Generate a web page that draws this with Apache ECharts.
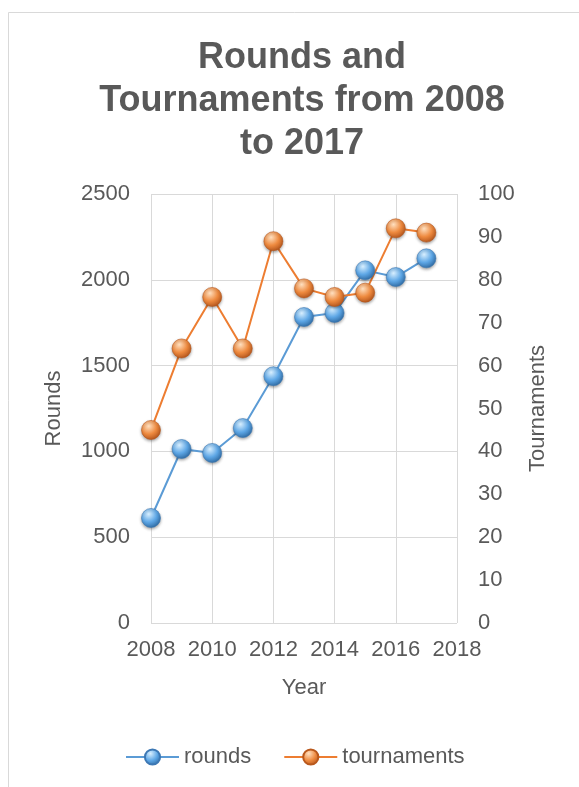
<!DOCTYPE html>
<html>
<head>
<meta charset="utf-8">
<script src="https://cdn.jsdelivr.net/npm/echarts@6/dist/echarts.min.js"></script>
<style>
html,body{margin:0;padding:0;background:#fff;}
#chart{width:579px;height:787px;}
</style>
</head>
<body>
<div id="chart"></div>
<script>
var years = [2008, 2009, 2010, 2011, 2012, 2013, 2014, 2015, 2016, 2017];
var rounds = [612, 1014, 991, 1136, 1438, 1783, 1807, 2055, 2016, 2125];
var tournaments = [45, 64, 76, 64, 89, 78, 76, 77, 92, 91];

var FONT = '"Liberation Sans", Arial, sans-serif';
var TXT = '#595959';

function pairs(xs, ys) { return xs.map(function (x, i) { return [x, ys[i]]; }); }

function sphere(light, mid, dark) {
  return {
    type: 'radial', x: 0.38, y: 0.3, r: 0.75,
    colorStops: [
      { offset: 0, color: light },
      { offset: 0.55, color: mid },
      { offset: 1, color: dark }
    ]
  };
}

var chart = echarts.init(document.getElementById('chart'), null, { renderer: 'canvas' });
chart.setOption({
  animation: false,
  backgroundColor: '#fff',
  textStyle: { fontFamily: FONT },
  graphic: [{
    type: 'rect', z: -10, silent: true,
    shape: { x: 8.5, y: 12.5, width: 800, height: 900 },
    style: { fill: 'none', stroke: '#d9d9d9', lineWidth: 1 }
  }],
  title: {
    text: 'Rounds and\nTournaments from 2008\nto 2017',
    left: 297, top: 32, textAlign: 'center',
    textStyle: { fontSize: 36, fontWeight: 'bold', color: TXT, lineHeight: 43, fontFamily: FONT }
  },
  legend: {
    left: 125, top: 746, padding: 0,
    itemWidth: 53, itemHeight: 19, itemGap: 32,
    textStyle: { fontSize: 22, color: TXT, fontFamily: FONT },
    data: ['rounds', 'tournaments']
  },
  grid: { left: 151, right: 122, top: 194, bottom: 164 },
  xAxis: {
    type: 'value', min: 2008, max: 2018, interval: 2,
    name: 'Year', nameLocation: 'middle', nameGap: 54,
    nameTextStyle: { fontSize: 22, color: TXT, fontFamily: FONT },
    axisLine: { show: false }, axisTick: { show: false },
    axisLabel: { fontSize: 22, color: TXT, margin: 16, fontFamily: FONT, formatter: function (v) { return String(v); } },
    splitLine: { show: true, lineStyle: { color: '#d9d9d9', width: 1 } }
  },
  yAxis: [{
    type: 'value', min: 0, max: 2500, interval: 500, position: 'left',
    name: 'Rounds', nameLocation: 'middle', nameGap: 86, nameRotate: 90,
    nameTextStyle: { fontSize: 22, color: TXT, fontFamily: FONT },
    axisLine: { show: false }, axisTick: { show: false },
    axisLabel: { fontSize: 22, color: TXT, margin: 21, fontFamily: FONT, formatter: function (v) { return String(v); } },
    splitLine: { show: true, lineStyle: { color: '#d9d9d9', width: 1 } }
  }, {
    type: 'value', min: 0, max: 100, interval: 10, position: 'right',
    name: 'Tournaments', nameLocation: 'middle', nameGap: 70, nameRotate: 90,
    nameTextStyle: { fontSize: 22, color: TXT, fontFamily: FONT },
    axisLine: { show: false }, axisTick: { show: false },
    axisLabel: { fontSize: 22, color: TXT, margin: 21, fontFamily: FONT },
    splitLine: { show: false }
  }],
  series: [{
    name: 'rounds', type: 'line', yAxisIndex: 0,
    data: pairs(years, rounds),
    symbol: 'circle', symbolSize: 19,
    lineStyle: { color: '#5b9bd5', width: 2 },
    itemStyle: {
      color: sphere('#d8efff', '#5ea7e6', '#2c679f'),
      borderColor: '#3d78b4', borderWidth: 0.6,
      shadowBlur: 3, shadowColor: 'rgba(0,0,0,0.35)', shadowOffsetY: 1.5
    }
  }, {
    name: 'tournaments', type: 'line', yAxisIndex: 1,
    data: pairs(years, tournaments),
    symbol: 'circle', symbolSize: 19,
    lineStyle: { color: '#ed7d31', width: 2 },
    itemStyle: {
      color: sphere('#ffe0c0', '#ee8a3f', '#b0521a'),
      borderColor: '#b9581c', borderWidth: 0.6,
      shadowBlur: 3, shadowColor: 'rgba(0,0,0,0.35)', shadowOffsetY: 1.5
    }
  }]
});
</script>
</body>
</html>
